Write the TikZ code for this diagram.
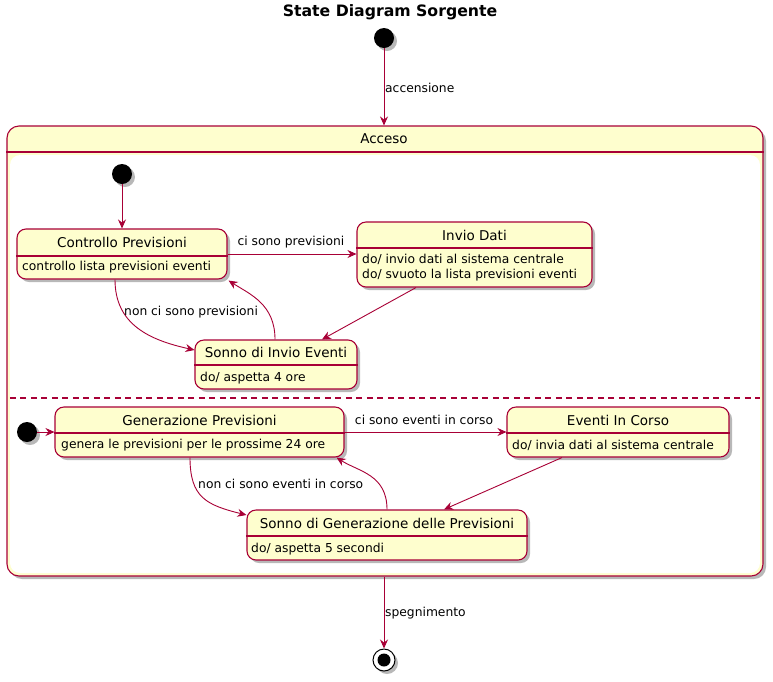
\documentclass[tikz,border=0pt]{standalone}
\usepackage{fontspec}
\setmainfont{DejaVu Sans}
\usetikzlibrary{arrows.meta,shadows,calc}
\definecolor{crim}{HTML}{A80036}
\definecolor{ylw}{HTML}{FEFECE}
\tikzset{
  shd/.style={drop shadow={shadow xshift=3pt,shadow yshift=-3pt,fill=black,opacity=0.28}},
  stbox/.style={draw=crim, fill=ylw, rounded corners=9pt, line width=1.1pt, inner sep=0pt, shd},
  sttitle/.style={font=\fontsize{13.5}{16}\selectfont, inner sep=0pt, anchor=center},
  stbody/.style={font=\fontsize{12.3}{15}\selectfont, inner sep=0pt, anchor=west, align=left},
  lbl/.style={font=\fontsize{12.3}{15}\selectfont, inner sep=0pt},
  divl/.style={draw=crim, line width=1.1pt},
  tr/.style={draw=crim, line width=0.9pt, -{Stealth[length=9pt,width=8pt,inset=3pt]}},
  initst/.style={circle, fill=black, minimum size=20pt, inner sep=0pt, shd},
}
\begin{document}
\begin{tikzpicture}[x=1pt,y=-1pt]
\useasboundingbox (0,0) rectangle (773,681);
% title
\node[font=\bfseries\fontsize{15.7}{18}\selectfont, inner sep=0pt] (title) at (390,12) {State Diagram Sorgente};
% top initial
\node[initst] (i0) at (384,38) {};
% Acceso composite
\node[stbox, rounded corners=12pt, minimum width=756pt, minimum height=450pt] (acc) at (385,351) {};
\node[fill=white, rounded corners=10pt, minimum width=750pt, minimum height=418pt, inner sep=0pt] (accin) at (385,364) {};
\draw[divl] (acc.west |- 0,152) -- (acc.east |- 0,152);
\node[sttitle] (acct) at (384,139) {Acceso};
\draw[crim, line width=1.1pt, dash pattern=on 6pt off 4.5pt] (accin.west |- 0,398) -- (accin.east |- 0,398);
\draw[tr] (i0) -- (acc.north -| i0);
\node[lbl, anchor=west] (lacc) at (385,88) {accensione};

% upper region
\node[initst] (i1) at (122,174) {};
\node[stbox, minimum width=210pt, minimum height=50pt] (cp) at (122,254) {};
\draw[divl] (cp.west |- 0,256) -- (cp.east |- 0,256);
\node[sttitle] (cpt) at (122,242) {Controllo Previsioni};
\node[stbody] (cpb) at (22,267.5) {controllo lista previsioni eventi};

\node[stbox, minimum width=235pt, minimum height=65pt] (id) at (474.5,254.5) {};
\draw[divl] (id.west |- 0,248) -- (id.east |- 0,248);
\node[sttitle] (idt) at (474.5,235) {Invio Dati};
\node[stbody, font=\fontsize{12.3}{14.5}\selectfont] (idb) at (362,267.5) {do/ invio dati al sistema centrale\\do/ svuoto la lista previsioni eventi};

\node[stbox, minimum width=162pt, minimum height=49pt] (sie) at (276,364.5) {};
\draw[divl] (sie.west |- 0,365) -- (sie.east |- 0,365);
\node[sttitle] (siet) at (276,352) {Sonno di Invio Eventi};
\node[stbody] (sieb) at (200,378) {do/ aspetta 4 ore};

\draw[tr] (i1) -- (cp.north);
\draw[tr] (cp.east |- 0,254) -- (id.west |- 0,254);
\node[lbl] (l1) at (291,242) {ci sono previsioni};
\draw[tr] ([xshift=-7pt]cp.south) .. controls +(0,45) and +(-45,-10) .. ([yshift=14.5pt]sie.west);
\node[lbl, anchor=west] (l2) at (124,312) {non ci sono previsioni};
\draw[tr] ([xshift=-1pt]sie.north) .. controls +(0,-35) and +(22,14) .. ([xshift=1pt,yshift=-1pt]cp.south east);
\draw[tr] ([xshift=-58.5pt]id.south) -- ([xshift=46pt]sie.north);

% lower region
\node[initst] (i2) at (27,432) {};
\node[stbox, minimum width=289pt, minimum height=50pt] (gp) at (199.5,432) {};
\draw[divl] (gp.west |- 0,433) -- (gp.east |- 0,433);
\node[sttitle] (gpt) at (199.5,420) {Generazione Previsioni};
\node[stbody] (gpb) at (61,445.5) {genera le previsioni per le prossime 24 ore};

\node[stbox, minimum width=222pt, minimum height=50pt] (ev) at (618,432) {};
\draw[divl] (ev.west |- 0,433) -- (ev.east |- 0,433);
\node[sttitle] (evt) at (618,420) {Eventi In Corso};
\node[stbody] (evb) at (512,445.5) {do/ invia dati al sistema centrale};

\node[stbox, minimum width=280pt, minimum height=50pt] (sg) at (387,535) {};
\draw[divl] (sg.west |- 0,536) -- (sg.east |- 0,536);
\node[sttitle] (sgt) at (387,523) {Sonno di Generazione delle Previsioni};
\node[stbody] (sgb) at (251,549) {do/ aspetta 5 secondi};

\draw[tr] (i2) -- (gp.west);
\draw[tr] (gp.east) -- (ev.west);
\node[lbl] (l3) at (424,420) {ci sono eventi in corso};
\draw[tr] ([xshift=-9.5pt]gp.south) .. controls +(0,40) and +(-40,-10) .. ([yshift=20pt]sg.west);
\node[lbl, anchor=west] (l4) at (198,484) {non ci sono eventi in corso};
\draw[tr] (sg.north) .. controls +(0,-35) and +(22,14) .. ([xshift=-8pt]gp.south east);
\draw[tr] ([xshift=-56pt]ev.south) -- ([xshift=57pt]sg.north);

% final
\node[circle, draw=black, fill=white, line width=1pt, minimum size=22pt, inner sep=0pt, shd] (fin) at (384,660) {};
\node[circle, fill=black, minimum size=13pt, inner sep=0pt] (finin) at (fin) {};
\draw[tr] (acc.south -| fin) -- (fin.north);
\node[lbl, anchor=west] (l5) at (385,613) {spegnimento};
\end{tikzpicture}
\end{document}
